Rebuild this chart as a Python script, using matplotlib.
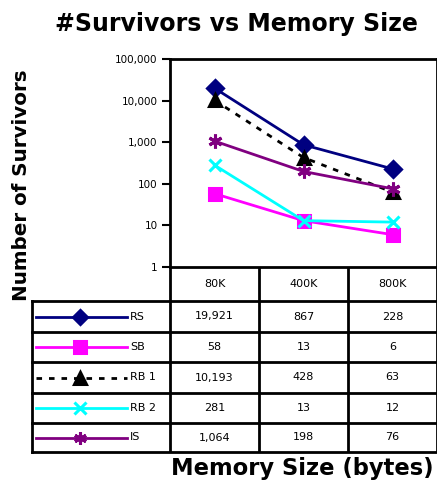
import numpy as np
import matplotlib.pyplot as plt
from matplotlib import transforms

# survivors per memory size, one list per collector
sizes = ["80K", "400K", "800K"]
series = ["RS", "SB", "RB 1", "RB 2", "IS"]
rs = [19921, 867, 228]
sb = [58, 13, 6]
rb1 = [10193, 428, 63]
rb2 = [281, 13, 12]
is_ = [1064, 198, 76]

colors = ["#000080", "#FF00FF", "#000000", "#00FFFF", "#800080"]
markers = ["D", "s", "^", "x", (6, 2, 0)]
msizes = [8, 9, 9, 9, 10]
styles = ["-", "-", (0, (2, 2.5)), "-", "-"]
values = [rs, sb, rb1, rb2, is_]

W, H = 437, 487
fig = plt.figure(figsize=(W / 100, H / 100), dpi=100)
plt.rcParams['font.family'] = ['DejaVu Sans']

left, right, top, bottom = 170, 437, 59, 267
ax = fig.add_axes([left / W, 1 - bottom / H, (right - left) / W, (bottom - top) / H])
ax.set_yscale('log')
ax.set_ylim(1, 100000)
ax.set_xlim(-0.5, 2.5)
x = np.arange(len(sizes))
for v, c, m, ms, ls in zip(values, colors, markers, msizes, styles):
    ax.plot(x, v, color=c, lw=2, ls=ls, marker=m, ms=ms, mew=2.2, clip_on=False)

ax.set_yticks([1, 10, 100, 1000, 10000, 100000])
ax.set_yticklabels(["1", "10", "100", "1,000", "10,000", "100,000"], fontsize=7.5)
ax.yaxis.set_minor_locator(plt.NullLocator())
ax.tick_params(axis='y', direction='out', length=6, width=1.5, pad=3)
ax.set_xticks([])
for s in ax.spines.values():
    s.set_linewidth(2)

# table underneath the plot, drawn in pixel coordinates
ov = fig.add_axes([0, 0, 1, 1])
ov.set_xlim(0, W)
ov.set_ylim(H, 0)
ov.axis('off')
bt = transforms.blended_transform_factory(ax.transData, ov.transData)

rows = [267, 301, 332, 362, 393, 423, 452]
lw = 2
for xb in [-0.5, 0.5, 1.5, 2.5]:
    ov.plot([xb, xb], [rows[0], rows[-1]], color='k', lw=lw, transform=bt, solid_capstyle='butt')
ov.plot([32, 32], [rows[1], rows[-1]], color='k', lw=lw)
for y in rows[1:]:
    ov.plot([32, W], [y, y], color='k', lw=lw)

for i, s in enumerate(sizes):
    ov.text(i, (rows[0] + rows[1]) / 2, s, transform=bt, ha='center', va='center', fontsize=8)

for r, (name, v, c, m, ms, ls) in enumerate(zip(series, values, colors, markers, msizes, styles)):
    yc = (rows[r + 1] + rows[r + 2]) / 2
    ov.plot([36, 127], [yc, yc], color=c, lw=2, ls=ls)
    ov.plot([80], [yc], color=c, marker=m, ms=ms - 1, mew=2.2)
    ov.text(130, yc, name, ha='left', va='center', fontsize=8)
    for i, val in enumerate(v):
        ov.text(i, yc, f"{val:,}", transform=bt, ha='center', va='center', fontsize=8)

fig.text(236 / W, 1 - 24 / H, "#Survivors vs Memory Size", ha='center', va='center',
         fontsize=17, fontweight='bold')
fig.text(22 / W, 1 - 185 / H, "Number of Survivors", ha='center', va='center',
         rotation=90, fontsize=14.3, fontweight='bold')
fig.text(302 / W, 1 - 469 / H, "Memory Size (bytes)", ha='center', va='center',
         fontsize=16.3, fontweight='bold')

fig.savefig("out.png", dpi=100)
